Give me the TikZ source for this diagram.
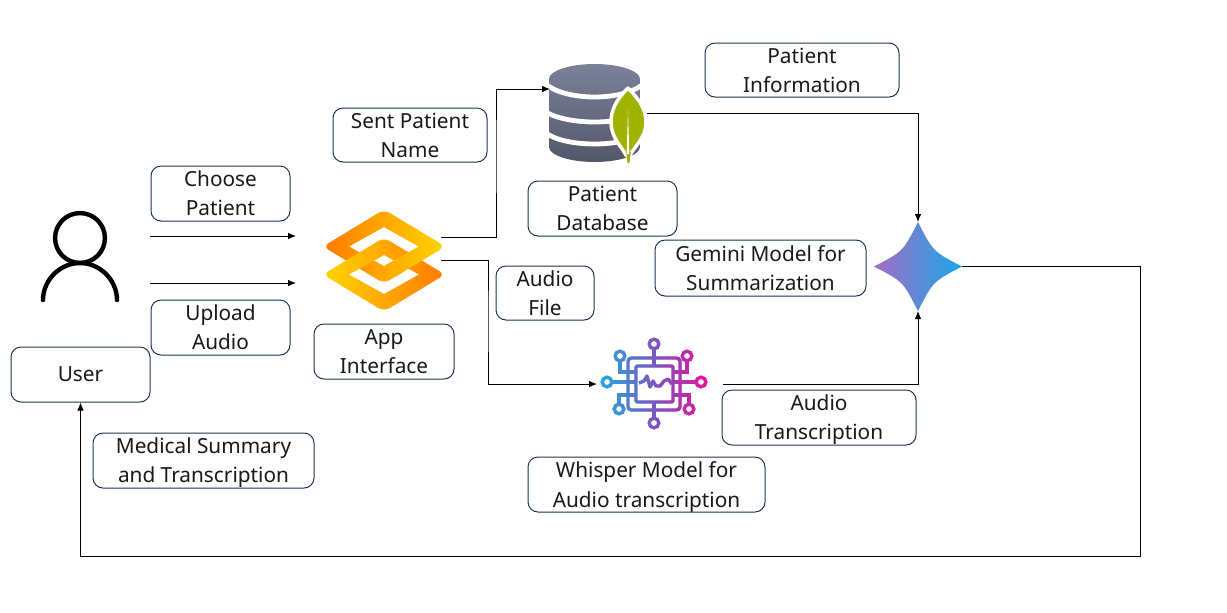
\documentclass[tikz,border=0pt]{standalone}
\usepackage{fontspec}
\setmainfont{Noto Sans}
\usetikzlibrary{arrows.meta}
\definecolor{boxline}{HTML}{1F3557}
\definecolor{orangeA}{HTML}{FF7A00}
\definecolor{yellowA}{HTML}{FFD500}
\definecolor{dbtop}{HTML}{7A8199}
\definecolor{dbbot}{HTML}{53576A}
\definecolor{leafc}{HTML}{A0B300}
\definecolor{wblue}{HTML}{25A9E0}
\definecolor{wpurple}{HTML}{7A58C0}
\definecolor{wmag}{HTML}{E8109A}
\definecolor{starL}{HTML}{A56CC4}
\definecolor{starM}{HTML}{4F8FDA}
\definecolor{starR}{HTML}{18A8E6}
\tikzset{
  wpx/.style={minimum width=#1*0.75pt},
  hpx/.style={minimum height=#1*0.75pt},
  tbox/.style={draw=boxline,line width=0.75pt,rounded corners=7.5pt,fill=white,inner sep=0pt,align=center,
    font=\fontsize{15.6}{21.8}\selectfont,text=black!90,text depth=-1.5pt},
  anchorbox/.style={inner sep=0pt,outer sep=0pt},
  conn/.style={draw=black,line width=0.75pt,-{Latex[length=6pt,width=5pt]}},
}
\newcommand{\ringpath}[1]{%
  (353.5,#1-18.5) [rounded corners=5pt] -- (384,#1-37) -- (445,#1) -- (384,#1+37) -- (323,#1) -- cycle
  [sharp corners] (349,#1) -- (384,#1-19.5) -- (419,#1) -- (384,#1+19.5) -- cycle}
\newcommand{\whisperart}{%
  \draw[rounded corners=2.5pt] (628,358) rectangle (680,410);
  \draw[rounded corners=1pt] (636,366) rectangle (673,402);
  \draw (654,349) -- (654,366) (654,402) -- (654,418.5);
  \draw (612,382) -- (636,382) (673,382) -- (696,382);
  \draw (620,361) -- (620,372) -- (636,372);
  \draw (687,361) -- (687,372) -- (673,372);
  \draw (619,404) -- (619,395) -- (636,395);
  \draw (689,404) -- (689,395) -- (673,395);
  \draw (654,344) circle[radius=3.6pt] (654,423) circle[radius=3.6pt]
        (607,382) circle[radius=3.6pt] (701,382) circle[radius=3.6pt]
        (620,356) circle[radius=3.6pt] (687,356) circle[radius=3.6pt]
        (619,409) circle[radius=3.6pt] (689,409) circle[radius=3.6pt];
  \draw[line join=round] (639,383) -- (644,381) -- (647,376) -- (650,387) -- (653,381) -- (656,386) -- (660,386) -- (664,381) -- (668,379) -- (672,384);
}
\begin{document}
\begin{tikzpicture}[x=0.75pt,y=-0.75pt]
\useasboundingbox (0,0) rectangle (1227,612);
% icon anchor nodes
\node[anchorbox,wpx=114,hpx=99] (app) at (384,260.5) {};
\node[anchorbox,wpx=97,hpx=98] (db) at (598.5,113) {};
\node[anchorbox,wpx=126,hpx=90] (whisper) at (660,384) {};
\node[anchorbox,wpx=88,hpx=89] (star) at (918,266.5) {};
\coordinate (choosestart) at (150,236);
\coordinate (chooseend) at (296,236);
\coordinate (uploadstart) at (150,283);
\coordinate (uploadend) at (296,283);
\coordinate (dbturn) at (496,150);
\coordinate (whturn) at (488,320);
\coordinate (farturn) at (1140,556);
% text boxes
\node[tbox,wpx=139,hpx=55] (choose) at (220.5,193.5) {Choose\\Patient};
\node[tbox,wpx=139,hpx=55] (upload) at (220.5,327.5) {Upload\\Audio};
\node[tbox,wpx=139,hpx=55] (user) at (80.5,374.5) {User};
\node[tbox,wpx=221,hpx=55] (medical) at (203.5,460.5) {Medical Summary\\and Transcription};
\node[tbox,wpx=140,hpx=55] (appl) at (384,351.5) {App\\Interface};
\node[tbox,wpx=154,hpx=54] (sent) at (410,135) {Sent Patient\\Name};
\node[tbox,wpx=149,hpx=55] (dbl) at (602.5,208.5) {Patient\\Database};
\node[tbox,wpx=194,hpx=54] (info) at (802,70) {Patient\\Information};
\node[tbox,wpx=211,hpx=56] (gem) at (760.5,268) {Gemini Model for\\Summarization};
\node[tbox,wpx=98,hpx=54] (afile) at (545,293) {Audio\\File};
\node[tbox,wpx=194,hpx=55] (atrans) at (819,417.5) {Audio\\Transcription};
\node[tbox,wpx=237,hpx=55] (whl) at (646.5,484.5) {Whisper Model for\\Audio transcription};
% user icon
\draw[line width=3.3pt,black] (80,238) circle[radius=18.7pt];
\draw[line width=3.3pt,black,line cap=round] (43,300) .. controls (43,280) and (60,263) .. (80,263) .. controls (100,263) and (117,280) .. (117,300);
% app icon
\shade[left color=orangeA,right color=yellowA,even odd rule] \ringpath{246.5};
\shade[left color=yellowA,right color=orangeA,even odd rule] \ringpath{274.5};
\begin{scope}
  \clip (385,225) rectangle (446,276);
  \shade[left color=orangeA,right color=yellowA,even odd rule] \ringpath{246.5};
\end{scope}
% database icon
\begin{scope}
  \path[clip] (549,79) .. controls (549,71) and (569,64) .. (594.5,64) .. controls (620,64) and (640,71) .. (640,79)
     -- (640,147) .. controls (640,155) and (620,162) .. (594.5,162) .. controls (569,162) and (549,155) .. (549,147) -- cycle;
  \shade[top color=dbtop,bottom color=dbbot] (549,64) rectangle (640,162);
  \draw[white,line width=3.6pt] (545,83) .. controls (552,91) and (572,97) .. (594.5,97) .. controls (617,97) and (637,91) .. (644,83);
  \draw[white,line width=3.6pt] (545,111) .. controls (552,117) and (572,122) .. (594.5,122) .. controls (617,122) and (637,117) .. (644,111);
  \draw[white,line width=3.6pt] (545,132) .. controls (552,139) and (572,144) .. (594.5,144) .. controls (617,144) and (637,139) .. (644,132);
\end{scope}
\draw[white,fill=leafc,line width=2.6pt,line join=round] (628,88) .. controls (640,100) and (646,110) .. (646,122) .. controls (646,138) and (634,147) .. (629.5,156) -- (626.5,156) .. controls (622,147) and (611,138) .. (611,122) .. controls (611,110) and (616,100) .. (628,88) -- cycle;
\fill[leafc] (626.2,152) -- (630.8,152) -- (629.5,163) -- (627.5,163) -- cycle;
\fill[white] (628,110) -- (629.3,154) -- (626.7,154) -- cycle;
% whisper icon
\foreach \i in {0,...,59}{
  \pgfmathsetmacro{\xa}{600+\i*1.8}
  \pgfmathsetmacro{\xb}{\xa+2.2}
  \pgfmathtruncatemacro{\pc}{\i*100/59}
  \ifnum\pc<50
    \pgfmathtruncatemacro{\qc}{\pc*2}
    \colorlet{wcur}{wpurple!\qc!wblue}
  \else
    \pgfmathtruncatemacro{\qc}{(\pc-50)*2}
    \colorlet{wcur}{wmag!\qc!wpurple}
  \fi
  \begin{scope}
    \clip (\xa,335) rectangle (\xb,432);
    \begin{scope}[draw=wcur,line width=2.5pt]
      \whisperart
    \end{scope}
  \end{scope}
}
% gemini star
\shade[left color=starL,middle color=starM,right color=starR] (874,266.5) .. controls (903,251.5) .. (918,222) .. controls (933,251.5) .. (962,266.5) .. controls (933,281.5) .. (918,311) .. controls (903,281.5) .. cycle;
% connectors
\draw[conn] (choosestart) -- (chooseend);
\draw[conn] (uploadstart) -- (uploadend);
\draw[conn] ([yshift=17.6pt]app.east) -| (dbturn) |- ([yshift=18pt]db.west);
\draw[conn] (app.east) -| (whturn) |- (whisper.west);
\draw[conn] (db.east) -| (star.north);
\draw[conn] (whisper.east) -| (star.south);
\draw[conn] (star.east) -| (farturn) -| (user.south);
\end{tikzpicture}
\end{document}
